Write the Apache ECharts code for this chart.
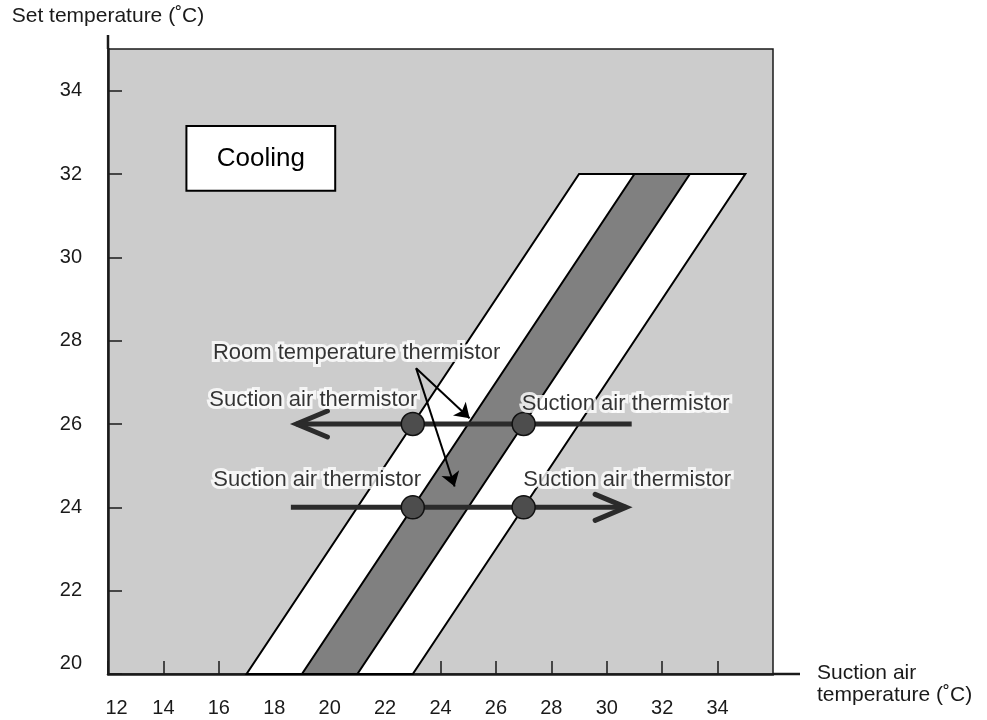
<!DOCTYPE html>
<html>
<head>
<meta charset="utf-8">
<title>Cooling</title>
<script src="https://cdn.jsdelivr.net/npm/echarts@6/dist/echarts.min.js"></script>
<style>
html, body { margin: 0; padding: 0; background: #fff; }
#chart { width: 987px; height: 720px; }
</style>
</head>
<body>
<div id="chart"></div>
<script>
// axis ranges
var xRange = [12, 36];
var yRange = [20, 35];

// bands: corner points [x, y] going round
var bandWhite = [17, 20, 23, 20, 35, 32, 29, 32];
var bandDark = [19, 20, 21, 20, 33, 32, 31, 32];

// thermistor points and the two arrows
var sensorPoints = [[23, 26], [27, 26], [23, 24], [27, 24]];
var upperLine = [[30.9, 26], [18.8, 26]];
var lowerLine = [[18.6, 24], [30.7, 24]];
// arrow tips: x, y, direction (1 = points left, -1 = points right)
var arrowTips = [[18.8, 26, 1], [30.7, 24, -1]];

// "room temperature thermistor" pointers
var pointerFrom = [23.12, 27.34];
var pointerTo = [[25.05, 26.14], [24.51, 24.5]];

// text labels (left edge x, middle y)
var labelNames = ['Room temperature thermistor', 'Suction air thermistor', 'Suction air thermistor',
	'Suction air thermistor', 'Suction air thermistor'];
var labelPos = [[15.77, 27.7], [15.64, 26.58], [15.78, 24.66], [26.91, 26.48], [26.97, 24.66]];

// "Cooling" box: x1, y1, x2, y2
var coolingBox = [14.83, 33.15, 20.2, 31.6];
var coolingText = 'Cooling';

var xName = 'Suction air\ntemperature (\u02daC)';
var yName = 'Set temperature (\u02daC)';

var FONT = '"Liberation Sans", Arial, Helvetica, sans-serif';
var DARK = '#1a1a1a';

var chart = echarts.init(document.getElementById('chart'));

function polyItem(params, api) {
	var pts = [];
	for (var i = 0; i < 8; i += 2) {
		pts.push(api.coord([api.value(i), api.value(i + 1)]));
	}
	return pts;
}

var labelData = labelNames.map(function (n, i) {
	return { name: n, value: labelPos[i] };
});

// text labels: white halo layer underneath, black text on top
function labelSeries(halo) {
	return {
		type: 'scatter',
		silent: true,
		z: halo ? 5 : 6,
		data: labelData,
		symbolSize: 1,
		itemStyle: { color: 'rgba(0,0,0,0)' },
		label: {
			show: true,
			position: 'right',
			distance: 0,
			formatter: '{b}',
			fontSize: 22,
			fontFamily: FONT,
			color: halo ? '#fff' : '#000',
			textBorderColor: halo ? '#fff' : 'transparent',
			textBorderWidth: halo ? 6 : 0
		},
		labelLayout: { hideOverlap: false }
	};
}

var option = {
	animation: false,
	backgroundColor: '#fff',
	textStyle: { fontFamily: FONT },
	grid: {
		left: 108, top: 49, right: 214, bottom: 46,
		show: true,
		backgroundColor: '#cccccc',
		borderColor: DARK,
		borderWidth: 1.5,
		containLabel: false,
		outerBoundsMode: 'none'
	},
	xAxis: {
		type: 'value',
		min: xRange[0], max: xRange[1], interval: 2,
		splitLine: { show: false },
		axisLine: { onZero: false, lineStyle: { color: DARK, width: 2.5 } },
		axisTick: { inside: true, length: 13, lineStyle: { color: DARK, width: 1.5 } },
		axisLabel: {
			color: DARK, fontSize: 20, fontFamily: FONT, margin: 24,
			showMaxLabel: false,
			formatter: function (v) { return v === xRange[0] ? '{lo|' + v + '}' : String(v); },
			rich: { lo: { fontSize: 20, fontFamily: FONT, color: DARK, padding: [0, 0, 0, 17] } }
		}
	},
	yAxis: {
		type: 'value',
		min: yRange[0], max: yRange[1], interval: 2,
		splitLine: { show: false },
		axisLine: { onZero: false, lineStyle: { color: DARK, width: 2.5 } },
		axisTick: { inside: true, length: 14, lineStyle: { color: DARK, width: 1.5 } },
		axisLabel: {
			color: DARK, fontSize: 20, fontFamily: FONT, margin: 26,
			showMaxLabel: false,
			formatter: function (v) { return v === yRange[0] ? '{lo|' + v + '}' : String(v); },
			rich: { lo: { fontSize: 20, fontFamily: FONT, color: DARK, padding: [0, 0, 22, 0] } }
		},
		name: yName,
		nameLocation: 'end',
		nameGap: 33,
		nameTextStyle: { color: DARK, fontSize: 21, fontFamily: FONT, align: 'center', verticalAlign: 'middle' }
	},
	series: [
		{
			type: 'custom',
			silent: true,
			z: 1,
			data: [bandWhite, bandDark],
			renderItem: function (params, api) {
				return {
					type: 'polygon',
					shape: { points: polyItem(params, api) },
					style: {
						fill: params.dataIndex === 0 ? '#ffffff' : '#808080',
						stroke: '#000', lineWidth: 2
					}
				};
			}
		},
		{
			type: 'custom',
			silent: true,
			z: 1,
			data: [coolingBox],
			renderItem: function (params, api) {
				var a = api.coord([api.value(0), api.value(1)]);
				var b = api.coord([api.value(2), api.value(3)]);
				return {
					type: 'group',
					children: [{
						type: 'rect',
						shape: { x: a[0], y: a[1], width: b[0] - a[0], height: b[1] - a[1] },
						style: { fill: '#fff', stroke: '#000', lineWidth: 2 }
					}, {
						type: 'text',
						style: {
							text: coolingText,
							x: (a[0] + b[0]) / 2, y: (a[1] + b[1]) / 2,
							align: 'center', verticalAlign: 'middle',
							fill: '#000', font: '26px ' + FONT
						}
					}]
				};
			}
		},
		{
			type: 'line',
			silent: true,
			z: 3,
			data: upperLine,
			symbol: 'none',
			lineStyle: { color: '#2b2b2b', width: 5 }
		},
		{
			type: 'line',
			silent: true,
			z: 3,
			data: lowerLine,
			symbol: 'none',
			lineStyle: { color: '#2b2b2b', width: 5 }
		},
		{
			type: 'custom',
			silent: true,
			z: 3,
			data: arrowTips,
			renderItem: function (params, api) {
				var p = api.coord([api.value(0), api.value(1)]);
				var d = api.value(2);
				return {
					type: 'polyline',
					shape: { points: [[p[0] + d * 31, p[1] - 13], p, [p[0] + d * 31, p[1] + 13]] },
					style: { fill: null, stroke: '#2b2b2b', lineWidth: 5, lineCap: 'round', lineJoin: 'miter' }
				};
			}
		},
		{
			type: 'scatter',
			silent: true,
			z: 4,
			data: sensorPoints,
			symbol: 'circle',
			symbolSize: 23,
			itemStyle: { color: '#4d4d4d', borderColor: '#111', borderWidth: 1.5, opacity: 1 }
		},
		labelSeries(true),
		labelSeries(false),
		{
			type: 'lines',
			coordinateSystem: 'cartesian2d',
			silent: true,
			z: 7,
			symbol: ['none', 'arrow'],
			symbolSize: [9, 14],
			lineStyle: { color: '#000', width: 2, opacity: 1 },
			data: pointerTo.map(function (t) { return { coords: [pointerFrom, t] }; })
		}
	]
};

chart.setOption(option);

// axis lines run a bit past the plot box, x axis name sits at its end
var origin = chart.convertToPixel({ gridIndex: 0 }, [xRange[0], yRange[0]]);
var topLeft = chart.convertToPixel({ gridIndex: 0 }, [xRange[0], yRange[1]]);
var botRight = chart.convertToPixel({ gridIndex: 0 }, [xRange[1], yRange[0]]);
chart.setOption({
	graphic: [{
		type: 'line', silent: true, z: 10,
		shape: { x1: origin[0], y1: topLeft[1] - 14, x2: origin[0], y2: topLeft[1] },
		style: { stroke: DARK, lineWidth: 2.5 }
	}, {
		type: 'line', silent: true, z: 10,
		shape: { x1: botRight[0], y1: origin[1], x2: botRight[0] + 27, y2: origin[1] },
		style: { stroke: DARK, lineWidth: 2.5 }
	}, {
		type: 'text', silent: true, z: 10,
		x: botRight[0] + 44, y: origin[1] - 12,
		style: {
			text: xName, fill: DARK, font: '21px ' + FONT,
			lineHeight: 22, align: 'left', verticalAlign: 'top'
		}
	}]
});
</script>
</body>
</html>
